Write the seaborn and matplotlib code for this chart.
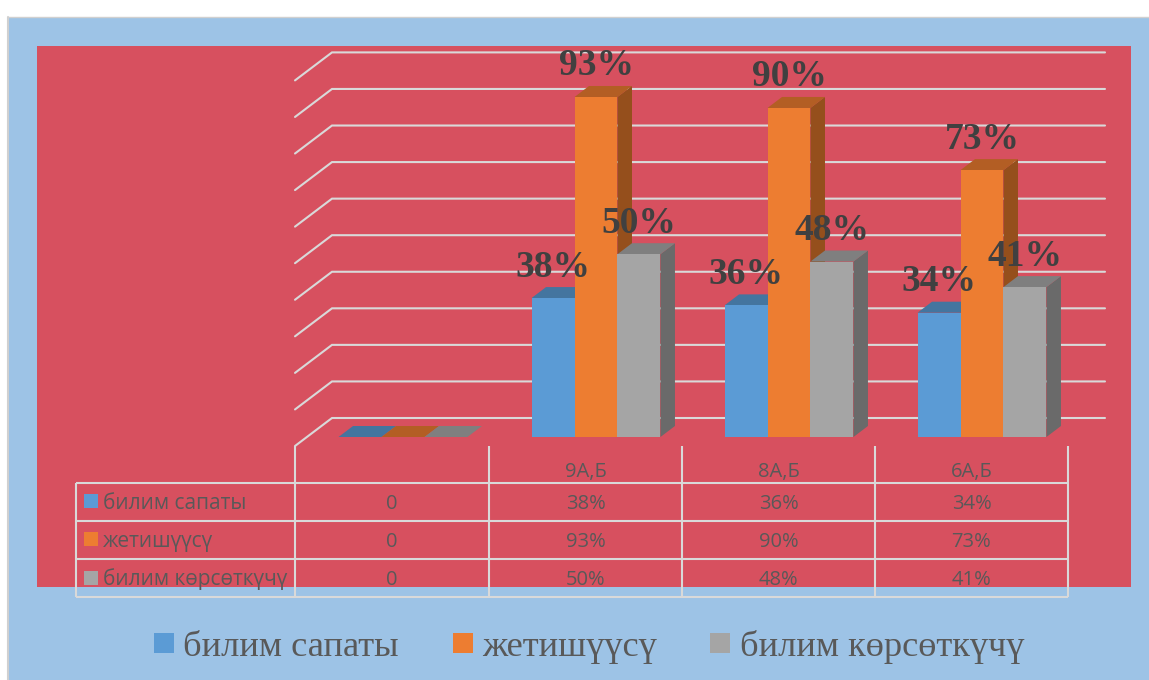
import pandas as pd
import numpy as np
import matplotlib
matplotlib.use("Agg")
import matplotlib.pyplot as plt
from matplotlib.patches import Polygon, Rectangle, Patch
import seaborn as sns

# ---- data ----
categories = ["", "9А,Б", "8А,Б", "6А,Б"]
series_names = ["билим сапаты", "жетишүүсү", "билим көрсөткүчү"]
sapaty = [0, 38, 36, 34]
jetishuu = [0, 93, 90, 73]
korsotkuch = [0, 50, 48, 41]
grid_values = list(range(0, 101, 10))

front_colors = ["#5B9BD5", "#ED7D31", "#A5A5A5"]
top_colors = ["#44759F", "#B35E24", "#7F7F7F"]
side_colors = ["#3E6A92", "#954F1C", "#6A6A6A"]
BLUE_BG, RED_BG, LINE, TXT = "#9DC3E6", "#D7505F", "#D9D9D9", "#595959"
SANS = ["Open Sans", "Noto Sans", "DejaVu Sans"]
SERIF = ["Liberation Serif", "DejaVu Serif"]

sns.set_theme(style="white")
W, H = 1149, 680
fig = plt.figure(figsize=(W / 100, H / 100), dpi=100, facecolor="white")

# page layer, measured in pixels
bg = fig.add_axes([0, 0, 1, 1], zorder=0)
bg.set_xlim(0, W); bg.set_ylim(H, 0); bg.set_axis_off()
bg.add_patch(Rectangle((8, 17), W - 8, H - 17, fc=BLUE_BG, ec="none"))
bg.plot([8, W], [16.5, 16.5], color="#D0D0D0", lw=1)
bg.plot([7.5, 7.5], [17, H], color="#D0D0D0", lw=1.5)
bg.add_patch(Rectangle((37, 46), 1094, 541, fc=RED_BG, ec="none"))

# data layer: category centres at 403, 596, 789, 982 px; 0 at y=437; 3.656 px per %
PX_X, PX_Y = 193.0, 3.656
left, right, bottom, top = 306.5, 1078.5, 437.0, 37.0
ax = fig.add_axes([left / W, 1 - bottom / H, (right - left) / W, (bottom - top) / H], zorder=1)
df = pd.DataFrame({
    "cat": categories * 3,
    "series": np.repeat(series_names, len(categories)),
    "value": sapaty + jetishuu + korsotkuch,
})
sns.barplot(data=df, x="cat", y="value", hue="series", order=categories, hue_order=series_names,
            palette=front_colors, saturation=1, width=0.668, gap=0, legend=False,
            linewidth=0, ax=ax, errorbar=None)
ax.set_xlim(-0.5, 3.5)
ax.set_ylim(0, (bottom - top) / PX_Y)
ax.set_axis_off()

# back wall gridlines
fx0, fx1 = (295 - 403) / PX_X, (332 - 403) / PX_X
bx1 = (1105 - 403) / PX_X
for v in grid_values:
    ax.plot([fx0, fx1, bx1], [v - 9 / PX_Y, v + 19 / PX_Y, v + 19 / PX_Y],
            color=LINE, lw=1.5, zorder=1, clip_on=False, solid_joinstyle="miter")

# 3-D faces derived from each drawn bar
dx, dy = 14.5 / PX_X, 11 / PX_Y
for i, cont in enumerate(ax.containers):
    z = 3 + i
    for bar in cont:
        x0, w, h = bar.get_x(), bar.get_width(), bar.get_height()
        x1 = x0 + w
        bar.set_zorder(z + 0.2)
        ax.add_patch(Polygon([(x1, 0), (x1 + dx, dy), (x1 + dx, h + dy), (x1, h)],
                             fc=side_colors[i], ec="none", zorder=z, clip_on=False))
        ax.add_patch(Polygon([(x0, h), (x1, h), (x1 + dx, h + dy), (x0 + dx, h + dy)],
                             fc=top_colors[i], ec="none", zorder=z + 0.1, clip_on=False))
        if h > 0:
            ax.text(x0 + w / 2, h + 31 / PX_Y, f"{h:.0f}%", ha="center", va="center",
                    fontsize=27, fontweight="bold", family=SERIF, color="#404040",
                    zorder=10, clip_on=False)

# data table
col_x = [295, 489, 682, 875, 1068]
row_y = [483, 520.5, 559, 597]
tbl_kw = dict(color=LINE, lw=1.5, solid_capstyle="butt")
for x in col_x:
    bg.plot([x, x], [446, 597], **tbl_kw)
bg.plot([76, 76], [row_y[0], row_y[-1]], **tbl_kw)
for y in row_y:
    bg.plot([76, col_x[-1]], [y, y], **tbl_kw)
for j, cat in enumerate(categories):
    bg.text((col_x[j] + col_x[j + 1]) / 2, 472, cat, ha="center", va="center",
            fontsize=14.5, color=TXT, family=SANS)
for r, (name, vals) in enumerate(zip(series_names, [sapaty, jetishuu, korsotkuch])):
    yc = (row_y[r] + row_y[r + 1]) / 2
    bg.add_patch(Rectangle((84, yc - 7.5), 14, 14, fc=front_colors[r], ec="none"))
    bg.text(103, yc + 1.5, name, ha="left", va="center", fontsize=15, color=TXT, family=SANS)
    for j, v in enumerate(vals):
        bg.text((col_x[j] + col_x[j + 1]) / 2, yc + 2, "0" if v == 0 else f"{v}%", ha="center",
                va="center", fontsize=14.5, color=TXT, family=SANS)

# bottom legend
handles = [Patch(fc=c, ec="none", label=n) for c, n in zip(front_colors, series_names)]
fig.legend(handles=handles, loc="center", bbox_to_anchor=(589 / W, 1 - 647 / H), ncol=3,
           frameon=False, prop={"family": SERIF, "size": 26.2}, labelcolor=TXT,
           handlelength=0.55, handleheight=0.5, handletextpad=0.26, columnspacing=1.47)

fig.savefig("out.png", dpi=100, facecolor="white")
